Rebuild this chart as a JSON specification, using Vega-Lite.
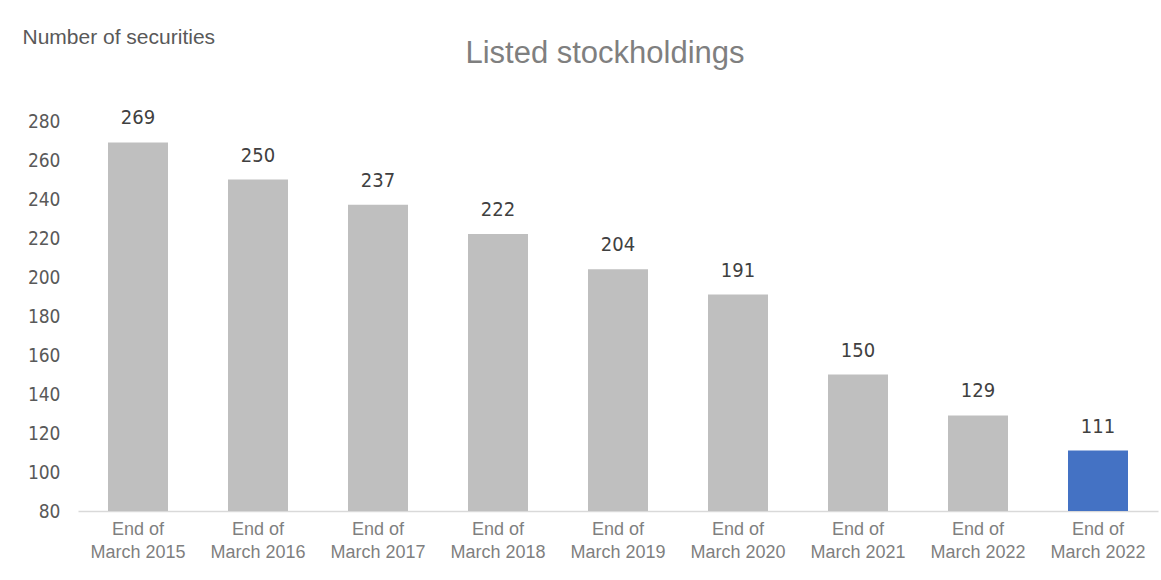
{
  "$schema": "https://vega.github.io/schema/vega-lite/v6.json",
  "width": 1080,
  "height": 390,
  "autosize": {"type": "none"},
  "padding": {"left": 78, "top": 121, "right": 3, "bottom": 69},
  "background": "white",
  "config": {"view": {"stroke": null}, "font": "Liberation Sans"},
  "title": {
    "text": "Listed stockholdings",
    "fontSize": 31,
    "fontWeight": "normal",
    "color": "#7f7f7f",
    "font": "Liberation Sans",
    "anchor": "middle",
    "frame": "group",
    "dx": -13,
    "offset": -44
  },
  "data": {
    "values": [
      {"key": "2015", "period": "End of March 2015", "value": 269},
      {"key": "2016", "period": "End of March 2016", "value": 250},
      {"key": "2017", "period": "End of March 2017", "value": 237},
      {"key": "2018", "period": "End of March 2018", "value": 222},
      {"key": "2019", "period": "End of March 2019", "value": 204},
      {"key": "2020", "period": "End of March 2020", "value": 191},
      {"key": "2021", "period": "End of March 2021", "value": 150},
      {"key": "2022a", "period": "End of March 2022", "value": 129},
      {"key": "2022b", "period": "End of March 2022", "value": 111}
    ]
  },
  "encoding": {
    "x": {
      "field": "key",
      "type": "nominal",
      "sort": null,
      "scale": {"paddingInner": 0.5, "paddingOuter": 0.25},
      "axis": {
        "title": null,
        "labelAngle": 0,
        "labelExpr": "['End of', 'March ' + slice(datum.value, 0, 4)]",
        "labelFontSize": 18,
        "labelColor": "#7f7f7f",
        "labelLineHeight": 23,
        "labelPadding": 9,
        "ticks": false,
        "domainColor": "#d9d9d9",
        "domainWidth": 1.5
      }
    },
    "y": {
      "field": "value",
      "type": "quantitative",
      "scale": {"domain": [80, 280], "nice": false, "zero": false},
      "axis": {
        "title": "Number of securities",
        "titleAngle": 0,
        "titleAlign": "left",
        "titleBaseline": "top",
        "titleX": -56,
        "titleY": -95,
        "titleFontSize": 21,
        "titleFontWeight": "normal",
        "titleColor": "#595959",
        "values": [80, 100, 120, 140, 160, 180, 200, 220, 240, 260, 280],
        "labelFontSize": 19,
        "labelColor": "#595959",
        "labelFont": "DejaVu Sans Condensed",
        "labelPadding": 18,
        "ticks": false,
        "domain": false,
        "grid": false
      }
    }
  },
  "layer": [
    {
      "mark": {"type": "bar", "clip": true},
      "encoding": {
        "color": {
          "condition": {"test": "datum.key === '2022b'", "value": "#4472c4"},
          "value": "#bfbfbf"
        }
      }
    },
    {
      "mark": {
        "type": "text",
        "baseline": "bottom",
        "dy": -14,
        "fontSize": 20,
        "color": "#404040",
        "font": "DejaVu Sans Condensed"
      },
      "encoding": {"text": {"field": "value", "type": "quantitative"}}
    }
  ]
}
